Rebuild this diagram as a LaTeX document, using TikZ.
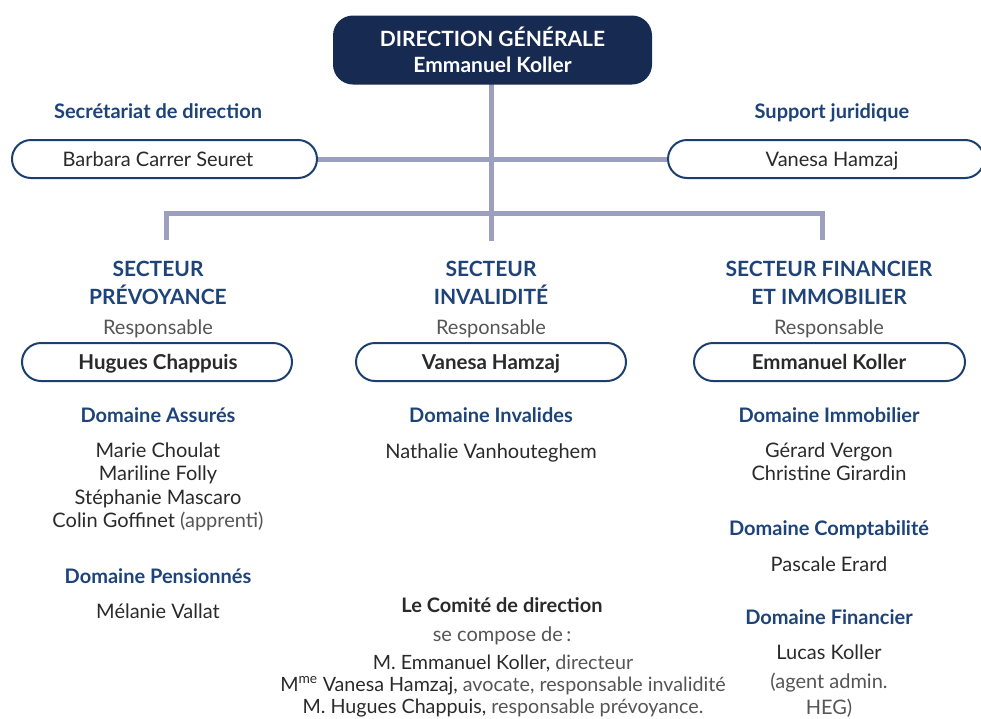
\documentclass[tikz,border=0pt]{standalone}
\usepackage{fontspec}
\setmainfont{Lato}
\usetikzlibrary{backgrounds}
\definecolor{navy}{HTML}{172A52}
\definecolor{pillc}{HTML}{1C3F70}
\definecolor{headblue}{HTML}{1D4379}
\definecolor{linec}{HTML}{9C9FC0}
\definecolor{txt}{HTML}{2A2A2A}
\definecolor{soft}{HTML}{555555}
\begin{document}
\begin{tikzpicture}[x=1pt,y=-1pt,
  one/.style={text height=17pt, text depth=2pt},
  conn/.style={draw=linec, line width=5pt, line join=miter},
  pill/.style={draw=pillc, line width=2pt, rounded corners=19pt, minimum height=38pt, fill=white, inner sep=0pt},
  head/.style={one, font=\bfseries\fontsize{20}{28}\selectfont, text=headblue},
  shead/.style={font=\bfseries\fontsize{21}{28}\selectfont, text=headblue, align=center},
  nm/.style={font=\fontsize{20}{23.5}\selectfont, text=txt, align=center},
  resp/.style={one, font=\fontsize{20}{22}\selectfont, text=soft},
  pname/.style={one, font=\bfseries\fontsize{20.5}{22}\selectfont, text=txt},
  plain/.style={one, font=\fontsize{20}{22}\selectfont, text=txt}
]
\useasboundingbox (0,0) rectangle (981,718);

% top
\node[fill=navy, rounded corners=20pt, minimum width=319pt, minimum height=69pt, inner sep=0pt,
      text=white, font=\bfseries\fontsize{21}{26}\selectfont, align=center] (dg) at (492.5,50)
      {DIRECTION GÉNÉRALE\\Emmanuel Koller};

% staff
\node[head] (sect) at (158,111) {Secrétariat de direction};
\node[pill, minimum width=305pt] (sec) at (164.5,159) {};
\node[plain] (sect2) at (158,159) {Barbara Carrer Seuret};
\node[head] (jurt) at (832,111) {Support juridique};
\node[pill, minimum width=316pt] (jur) at (826,159) {};
\node[plain] (jurt2) at (832,159) {Vanesa Hamzaj};

% junctions
\coordinate (jl) at (166,213);
\coordinate (jr) at (822,213);
\coordinate (el) at (166,240);
\coordinate (em) at (491,241);
\coordinate (er) at (822,240);
\coordinate (dgb) at (491,84);

\begin{scope}[on background layer]
\draw[conn] (dgb) -- (em);
\draw[conn] (el) -- (jl) -- (jr) -- (er);
\draw[conn] (sec.east) -- (jur.west);
\end{scope}

% sectors
\node[shead] (s1) at (158,283) {SECTEUR\\PRÉVOYANCE};
\node[shead] (s2) at (491,283) {SECTEUR\\INVALIDITÉ};
\node[shead] (s3) at (829,283) {SECTEUR FINANCIER\\ET IMMOBILIER};
\node[resp] (r1) at (158,327) {Responsable};
\node[resp] (r2) at (491,327) {Responsable};
\node[resp] (r3) at (829,327) {Responsable};
\node[pill, minimum width=270pt] (p1) at (157,362) {};
\node[pname] (p1t) at (158,362) {Hugues Chappuis};
\node[pill, minimum width=270pt] (p2) at (491,362) {};
\node[pname] (p2t) at (491,362) {Vanesa Hamzaj};
\node[pill, minimum width=271pt] (p3) at (829.5,362) {};
\node[pname] (p3t) at (829,362) {Emmanuel Koller};

% left column
\node[head] (d1) at (158,415) {Domaine Assurés};
\node[nm, anchor=north] (d1n) at (158,439) {Marie Choulat\\Mariline Folly\\Stéphanie Mascaro\\Colin Goffinet \textcolor{soft}{(apprenti)}};
\node[head] (d2) at (158,576) {Domaine Pensionnés};
\node[plain] (d2n) at (158,611) {Mélanie Vallat};

% middle column
\node[head] (d3) at (491,415) {Domaine Invalides};
\node[plain] (d3n) at (491,451) {Nathalie Vanhouteghem};

\node[one, font=\bfseries\fontsize{20}{22}\selectfont, text=txt] (cd) at (502,605) {Le Comité de direction};
\node[resp] (cd2) at (502,634) {se compose de\,:};
\node[nm, anchor=north, font=\fontsize{19.7}{22}\selectfont] (cd3) at (503,651)
  {M. Emmanuel Koller, \textcolor{soft}{directeur}\\
   M\textsuperscript{me} Vanesa Hamzaj, \textcolor{soft}{avocate, responsable invalidité}\\
   M. Hugues Chappuis, \textcolor{soft}{responsable prévoyance.}};

% right column
\node[head] (d4) at (829,415) {Domaine Immobilier};
\node[nm, anchor=north] (d4n) at (829,439) {Gérard Vergon\\Christine Girardin};
\node[head] (d5) at (829,528) {Domaine Comptabilité};
\node[plain] (d5n) at (829,564) {Pascale Erard};
\node[head] (d6) at (829,617) {Domaine Financier};
\node[plain] (d6n) at (829,652) {Lucas Koller};
\node[nm, anchor=north, text=soft, font=\fontsize{20}{26}\selectfont] (d6m) at (829,669) {(agent admin.\\HEG)};
\end{tikzpicture}
\end{document}
